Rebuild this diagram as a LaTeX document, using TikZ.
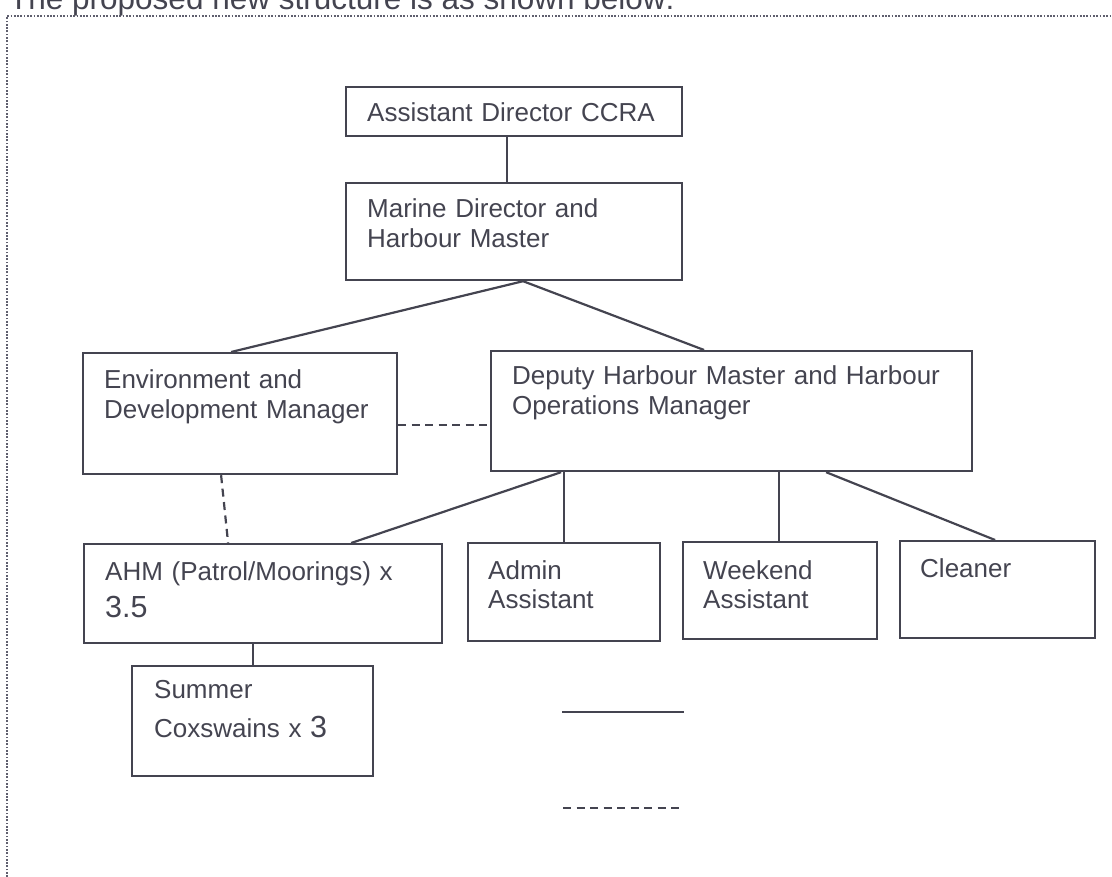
\documentclass[tikz,border=0pt]{standalone}
\usepackage{fontspec}
\setmainfont{Liberation Sans}
\usepackage{xcolor}
\definecolor{ink}{RGB}{68,68,80}
\definecolor{dotgrey}{RGB}{95,95,110}
\begin{document}
\begin{tikzpicture}[x=1pt,y=1pt]
\tikzstyle{every node}+=[inner sep=0pt]
\tikzstyle{box}=[draw=ink, line width=2.2pt, anchor=north west]
\tikzstyle{lbl}=[anchor=base west, align=left, text=ink, font=\fontsize{26}{29.5}\selectfont]
\tikzstyle{link}=[draw=ink, line width=2.2pt]
\tikzstyle{dlink}=[link, dash pattern=on 8pt off 5.5pt]
\newcommand{\bignum}[1]{{\fontsize{30.5}{30.5}\selectfont #1}}
\useasboundingbox (0,0) rectangle (1112,-877);
\draw [dotgrey, line width=2pt, dash pattern=on 1.7pt off 1.6pt] (7,-877) -- (7,-16) -- (1112,-16);
\node [lbl, font=\fontsize{31.5}{34}\selectfont] (title) at (9,-10) {The proposed new structure is as shown below:};
\node [box, minimum width=336, minimum height=49] (adir) at (345,-86) {};
\node [lbl, text width=310] (adirt) at (367,-122) {Assistant Director CCRA};
\node [box, minimum width=336, minimum height=97] (mdir) at (345,-182) {};
\node [lbl, text width=310] (mdirt) at (367,-218) {Marine Director and\\Harbour Master};
\node [box, minimum width=314, minimum height=121] (env) at (82,-352) {};
\node [lbl, text width=290] (envt) at (104,-389) {Environment and\\Development Manager};
\node [box, minimum width=481, minimum height=120] (dhm) at (490,-350) {};
\node [lbl, text width=455] (dhmt) at (512,-385) {Deputy Harbour Master and Harbour\\Operations Manager};
\node [box, minimum width=358, minimum height=99] (ahm) at (83,-543) {};
\node [lbl, text width=335] (ahmt) at (105,-580) {AHM (Patrol/Moorings) x\\[7.5pt]\bignum{3.5}};
\node [box, minimum width=241, minimum height=110] (cox) at (131,-665) {};
\node [lbl, text width=215] (coxt) at (154,-698) {Summer\\[9.5pt]Coxswains x \bignum{3}};
\node [box, minimum width=192, minimum height=98] (adm) at (467,-542) {};
\node [lbl, text width=170] (admt) at (488,-579) {Admin\\Assistant};
\node [box, minimum width=194, minimum height=97] (wke) at (682,-541) {};
\node [lbl, text width=170] (wket) at (703,-579) {Weekend\\Assistant};
\node [box, minimum width=195, minimum height=97] (cln) at (899,-540) {};
\node [lbl, text width=170] (clnt) at (920,-577) {Cleaner};
\draw [link] ([xshift=-7]adir.south) -- ([xshift=-7]mdir.north);
\draw [link] ([xshift=9]mdir.south) -- ([xshift=-9]env.north);
\draw [link] ([xshift=9]mdir.south) -- ([xshift=-27.5]dhm.north);
\draw [dlink] ([yshift=-11.5]env.east) -- ([yshift=-11.5]env.east -| dhm.west);
\draw [dlink] ([xshift=-19]env.south) -- ([xshift=-35]ahm.north);
\draw [link] ([xshift=-170.5]dhm.south) -- ([xshift=88]ahm.north);
\draw [link] ([xshift=-167.5]dhm.south) -- ([xshift=-167.5]dhm.south |- adm.north);
\draw [link] ([xshift=47.5]dhm.south) -- ([xshift=47.5]dhm.south |- wke.north);
\draw [link] ([xshift=94.5]dhm.south) -- ([xshift=-2.5]cln.north);
\draw [link] ([xshift=-10]ahm.south) -- ([xshift=-10]ahm.south |- cox.north);
\coordinate (solida) at (562,-712);
\coordinate (solidb) at (684,-712);
\coordinate (dasha) at (563,-808);
\coordinate (dashb) at (683,-808);
\draw [link] (solida) -- (solidb);
\draw [dlink] (dasha) -- (dashb);
\end{tikzpicture}
\end{document}
